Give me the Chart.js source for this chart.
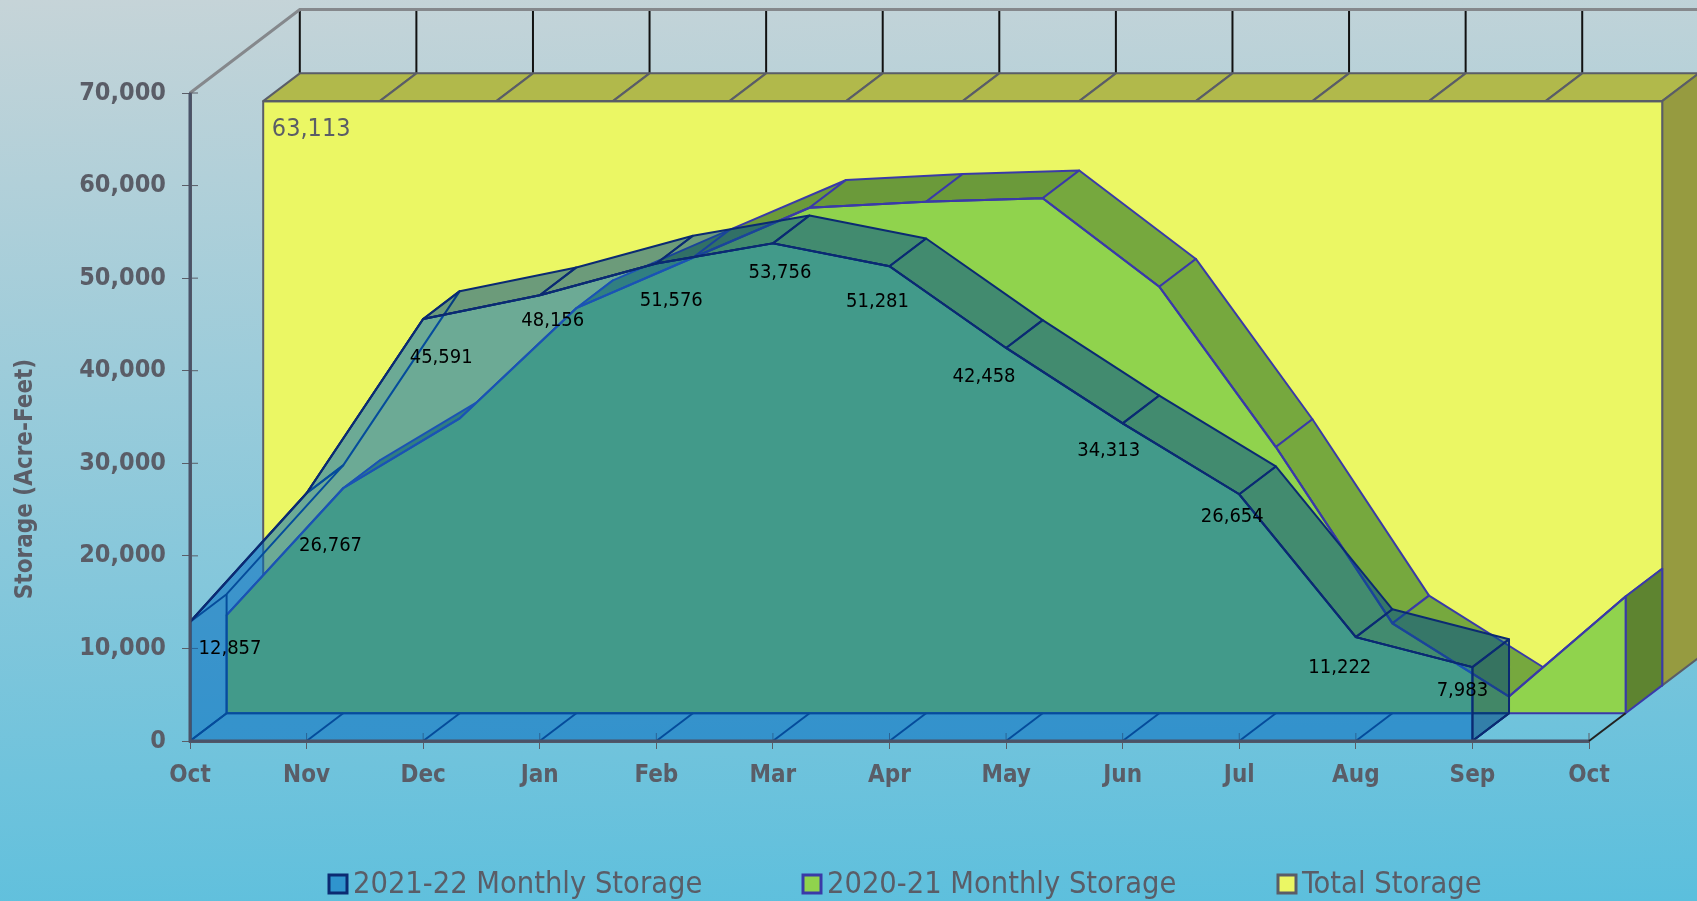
<!DOCTYPE html>
<html lang="en">
<head>
    <meta charset="UTF-8">
    <title>Monthly Storage</title>
    <script src="https://cdn.jsdelivr.net/npm/chart.js@4"></script>
    <style>
        html, body { margin: 0; padding: 0; overflow: hidden; }
        body { width: 1697px; height: 901px; background: linear-gradient(178deg, #c6d4d8 0%, #5bbfdd 100%); }
        canvas { display: block; }
    </style>
</head>
<body>
<canvas id="myChart" width="1697" height="901"></canvas>
<script>

    const months = ["Oct", "Nov", "Dec", "Jan", "Feb", "Mar", "Apr", "May", "Jun", "Jul", "Aug", "Sep", "Oct"];
    const storage2122 = [12857, 26767, 45591, 48156, 51576, 53756, 51281, 42458, 34313, 26654, 11222, 7983];
    const storage2021 = [10600, 24300, 31850, 43750, 49200, 54600, 55250, 55620, 46070, 28750, 9700, 1800, 12600];
    const totalStorage = [63113, 63113, 63113, 63113, 63113, 63113, 63113, 63113, 63113, 63113, 63113, 63113, 63113];
    const seriesNames = ["2021-22 Monthly Storage", "2020-21 Monthly Storage", "Total Storage"];

    const fontName = "'DejaVu Sans Condensed', 'DejaVu Sans', sans-serif";
    const textGray = "#5a5d67";
    const depthX = 36.6;
    const depthY = 27.8;

    // how each series is extruded, index matches the datasets below
    const faces = [
        { depth: 0, front: "rgba(0,106,190,0.54)", rising: "rgba(0,78,140,0.54)", falling: "rgba(0,78,140,0.54)", end: "rgba(0,70,125,0.54)", line: "#0b2a72", outline: true },
        { depth: 1, front: "#90d34d", rising: "#6b9a3a", falling: "#76a83e", end: "#5e8430", line: "#3a3aa8" },
        { depth: 2, front: "#ebf764", rising: "#b1b94b", falling: "#b1b94b", end: "#969b40", line: "#5a5d67" }
    ];

    // data labels sit a little away from their vertex in the original
    const labelShiftX = [40, 24, 18, 13, 15, 7, -12, -22, -14, -7, -16, -10];
    const labelShiftY = [27, 53, 39, 26, 37, 29, 36, 29, 27, 23, 31, 24];
    const legendX = [328, 802, 1277];

    function path(ctx, points) {
        ctx.beginPath();
        points.forEach((p, i) => i ? ctx.lineTo(p[0], p[1]) : ctx.moveTo(p[0], p[1]));
        ctx.closePath();
    }

    const depth3d = {
        id: "depth3d",
        beforeDatasetsDraw(chart) {
            const { ctx, scales: { x, y } } = chart;
            const bx = (i) => x.getPixelForValue(i) + 3 * depthX;
            const wallY = y.getPixelForValue(70000) - 3 * depthY;
            ctx.save();
            // open back wall above the yellow block
            ctx.strokeStyle = "#111";
            ctx.lineWidth = 2;
            months.forEach((m, i) => {
                ctx.beginPath();
                ctx.moveTo(bx(i), wallY);
                ctx.lineTo(bx(i), y.getPixelForValue(totalStorage[i]) - 3 * depthY);
                ctx.stroke();
            });
            ctx.strokeStyle = "#85888c";
            ctx.lineWidth = 3;
            ctx.beginPath();
            ctx.moveTo(x.left, y.top);
            ctx.lineTo(x.left + 3 * depthX, wallY);
            ctx.lineTo(chart.width, wallY);
            ctx.stroke();
            // ticks cross the axis lines
            ctx.strokeStyle = textGray;
            ctx.lineWidth = 1;
            y.ticks.forEach((t) => {
                const py = y.getPixelForValue(t.value);
                ctx.beginPath();
                ctx.moveTo(x.left, py);
                ctx.lineTo(x.left + 8, py);
                ctx.stroke();
            });
            months.forEach((m, i) => {
                const px = x.getPixelForValue(i);
                ctx.beginPath();
                ctx.moveTo(px, y.bottom);
                ctx.lineTo(px, y.bottom - 8);
                ctx.stroke();
            });
            ctx.restore();
        },
        beforeDatasetDraw(chart, args) {
            const { ctx, scales: { x, y } } = chart;
            const f = faces[args.index];
            const values = chart.data.datasets[args.index].data;
            const last = values.length - 1;
            const dx = f.depth * depthX;
            const dy = f.depth * depthY;
            const px = (i) => x.getPixelForValue(i) + dx;
            const py = (v) => y.getPixelForValue(v) - dy;
            const base = py(0);

            ctx.save();
            ctx.lineWidth = 2;
            ctx.lineJoin = "round";
            ctx.strokeStyle = f.line;

            if (f.outline) {
                // floor and hidden left end, seen through the see-through front
                path(ctx, [[px(0), base], [px(0) + depthX, base - depthY], [px(last) + depthX, base - depthY], [px(last), base]]);
                ctx.stroke();
                values.forEach((v, i) => {
                    ctx.beginPath();
                    ctx.moveTo(px(i), base);
                    ctx.lineTo(px(i) + depthX, base - depthY);
                    ctx.stroke();
                });
                ctx.beginPath();
                ctx.moveTo(px(0) + depthX, base - depthY);
                ctx.lineTo(px(0) + depthX, py(values[0]) - depthY);
                ctx.stroke();
            }

            for (let i = 0; i < last; i++) {
                const y0 = py(values[i]);
                const y1 = py(values[i + 1]);
                path(ctx, [[px(i), y0], [px(i + 1), y1], [px(i + 1) + depthX, y1 - depthY], [px(i) + depthX, y0 - depthY]]);
                if ((y0 - y1) / (px(i + 1) - px(i)) < depthY / depthX) {
                    ctx.fillStyle = y1 <= y0 ? f.rising : f.falling;
                    ctx.fill();
                }
                ctx.stroke();
            }

            const endY = py(values[last]);
            path(ctx, [[px(last), base], [px(last), endY], [px(last) + depthX, endY - depthY], [px(last) + depthX, base - depthY]]);
            ctx.fillStyle = f.end;
            ctx.fill();
            ctx.stroke();

            const front = [[px(0), base]];
            values.forEach((v, i) => front.push([px(i), py(v)]));
            front.push([px(last), base]);
            path(ctx, front);
            ctx.fillStyle = f.front;
            ctx.fill();
            ctx.stroke();
            ctx.restore();

            // the dataset's own line goes on the same plane as its front face
            ctx.save();
            ctx.translate(dx, -dy);
        },
        afterDatasetDraw(chart) {
            chart.ctx.restore();
        },
        afterDatasetsDraw(chart) {
            const { ctx, scales: { x, y } } = chart;
            ctx.save();

            // axis lines stay on top of the blue block
            ctx.strokeStyle = "#4a5368";
            ctx.lineWidth = 3;
            ctx.beginPath();
            ctx.moveTo(x.left, y.top);
            ctx.lineTo(x.left, y.bottom);
            ctx.lineTo(x.right, y.bottom);
            ctx.stroke();

            ctx.strokeStyle = "#222";
            ctx.lineWidth = 2;
            ctx.beginPath();
            ctx.moveTo(x.right, y.bottom);
            ctx.lineTo(x.right + depthX, y.bottom - depthY);
            ctx.stroke();

            ctx.textAlign = "center";
            ctx.textBaseline = "middle";
            ctx.fillStyle = "#000";
            ctx.font = "20px " + fontName;
            storage2122.forEach((v, i) => {
                ctx.fillText(v.toLocaleString("en-US"), x.getPixelForValue(i) + labelShiftX[i], y.getPixelForValue(v) + labelShiftY[i]);
            });

            ctx.fillStyle = textGray;
            ctx.font = "25px " + fontName;
            ctx.fillText(totalStorage[0].toLocaleString("en-US"), x.left + 2 * depthX + 48, y.getPixelForValue(totalStorage[0]) - 2 * depthY + 28);

            ctx.save();
            ctx.translate(26, 479);
            ctx.rotate(-Math.PI / 2);
            ctx.font = "bold 24px " + fontName;
            ctx.fillText("Storage (Acre-Feet)", 0, 0);
            ctx.restore();

            ctx.textAlign = "left";
            ctx.font = "30.5px " + fontName;
            seriesNames.forEach((name, i) => {
                ctx.fillStyle = faces[i].depth === 0 ? "#2f94cd" : faces[i].front;
                ctx.strokeStyle = faces[i].line;
                ctx.lineWidth = 3;
                ctx.fillRect(legendX[i] + 1, 875, 18, 18);
                ctx.strokeRect(legendX[i] + 1, 875, 18, 18);
                ctx.fillStyle = textGray;
                ctx.fillText(name, legendX[i] + 25, 885);
            });
            ctx.restore();
        }
    };

    const myChart = new Chart("myChart", {
        type: "line",
        data: {
            labels: months,
            datasets: [
                { label: seriesNames[0], data: storage2122, borderColor: faces[0].line },
                { label: seriesNames[1], data: storage2021, borderColor: faces[1].line },
                { label: seriesNames[2], data: totalStorage, borderColor: faces[2].line }
            ].map((d) => ({ ...d, fill: false, tension: 0, borderWidth: 2, pointRadius: 0, clip: false }))
        },
        options: {
            responsive: false,
            animation: false,
            layout: {
                autoPadding: false,
                padding: { left: 0, top: 93, right: 108, bottom: 0 }
            },
            plugins: {
                legend: { display: false },
                title: { display: false },
                tooltip: { enabled: false }
            },
            scales: {
                x: {
                    type: "category",
                    offset: false,
                    afterFit: (s) => { s.height = 160; },
                    grid: { drawOnChartArea: false, color: textGray, tickLength: 8, tickWidth: 1 },
                    border: { color: textGray, width: 3 },
                    ticks: {
                        autoSkip: false,
                        maxRotation: 0,
                        color: textGray,
                        padding: 12,
                        font: { family: fontName, size: 24, weight: "bold" }
                    }
                },
                y: {
                    min: 0,
                    max: 70000,
                    afterFit: (s) => { s.width = 190; },
                    grid: { drawOnChartArea: false, color: textGray, tickLength: 8, tickWidth: 1 },
                    border: { color: textGray, width: 3 },
                    ticks: {
                        stepSize: 10000,
                        color: textGray,
                        padding: 16,
                        font: { family: fontName, size: 25, weight: "bold" },
                        callback: (v) => v.toLocaleString("en-US")
                    }
                }
            }
        },
        plugins: [depth3d]
    });
</script>
</body>
</html>
